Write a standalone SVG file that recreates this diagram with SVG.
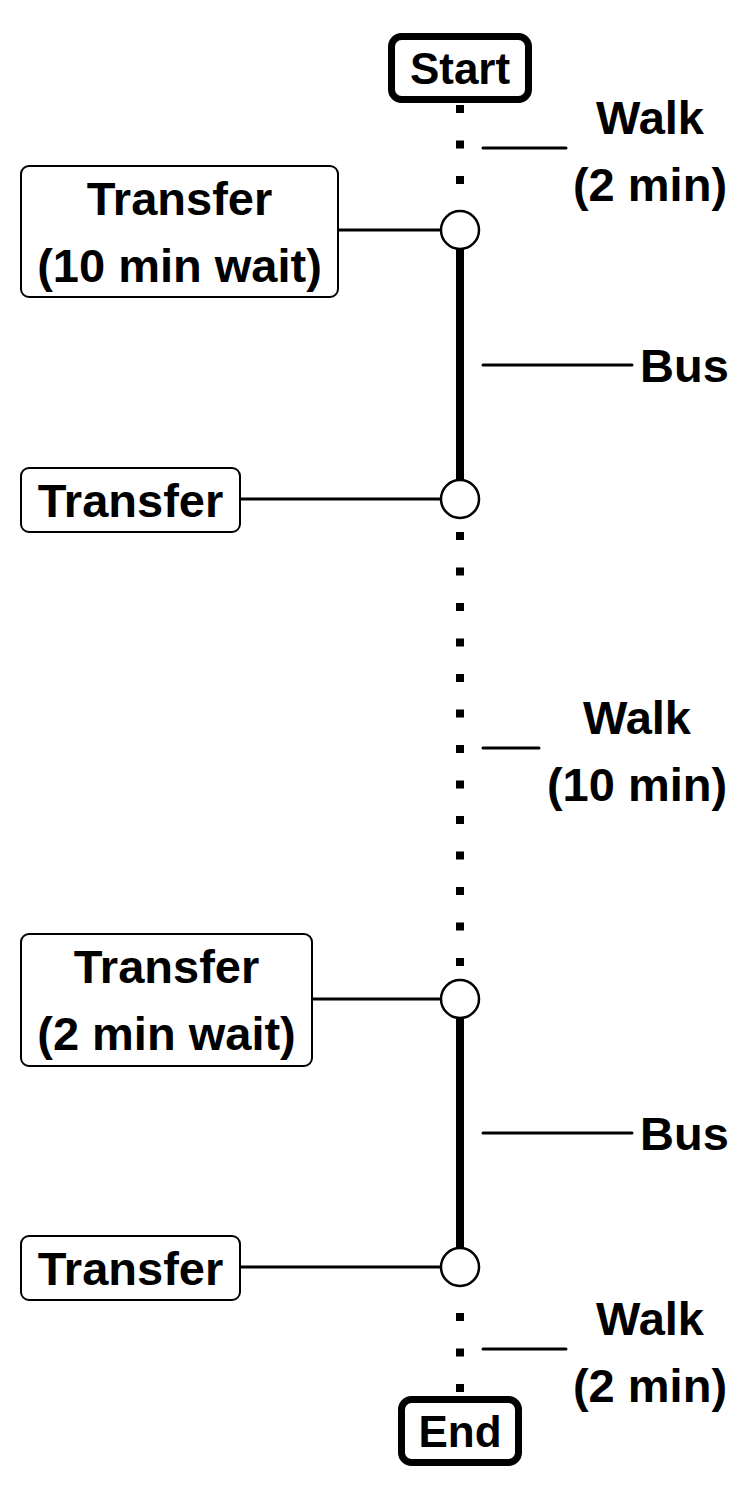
<svg xmlns="http://www.w3.org/2000/svg" width="750" height="1500" viewBox="0 0 750 1500">
<style>
text{font-family:"Liberation Sans",Arial,Helvetica,sans-serif;font-weight:bold;fill:#000}
.lbl{font-size:47px}
.term{font-size:44px}
.mid{text-anchor:middle}
.box{fill:#fff;stroke:#000;stroke-width:2}
.tbox{fill:#fff;stroke:#000;stroke-width:7}
.stop{fill:#fff;stroke:#000;stroke-width:2.5}
.walk{stroke:#000;stroke-width:8;stroke-dasharray:8 27.5;fill:none}
.bus{stroke:#000;stroke-width:8;fill:none}
.link{stroke:#000;stroke-width:3;fill:none}
.tick{stroke:#000;stroke-width:3;stroke-linecap:round;fill:none}
</style>
<rect width="750" height="1500" fill="#fff"/>
<g id="connectors">
<line class="walk" x1="460" y1="105" x2="460" y2="211"/>
<line class="bus" x1="460" y1="230" x2="460" y2="499"/>
<line class="walk" x1="460" y1="532" x2="460" y2="980"/>
<line class="bus" x1="460" y1="999" x2="460" y2="1267"/>
<line class="walk" x1="460" y1="1313" x2="460" y2="1396"/>
<line class="link" x1="338" y1="230" x2="441" y2="230"/>
<line class="link" x1="240" y1="499" x2="441" y2="499"/>
<line class="link" x1="312" y1="999" x2="441" y2="999"/>
<line class="link" x1="240" y1="1267" x2="441" y2="1267"/>
<line class="tick" x1="483" y1="148" x2="566" y2="148"/>
<line class="tick" x1="483" y1="365" x2="632" y2="365"/>
<line class="tick" x1="483" y1="748" x2="539" y2="748"/>
<line class="tick" x1="483" y1="1133" x2="632" y2="1133"/>
<line class="tick" x1="483" y1="1349" x2="566" y2="1349"/>
</g>
<g id="start">
<rect class="tbox" x="391.5" y="36.5" width="137" height="63" rx="10"/>
<text class="term mid" x="460" y="84">Start</text>
</g>
<g id="end">
<rect class="tbox" x="401.5" y="1399.5" width="117" height="63" rx="10"/>
<text class="term mid" x="460" y="1447">End</text>
</g>
<g id="stop1"><circle class="stop" cx="460" cy="230" r="19"/></g>
<g id="stop2"><circle class="stop" cx="460" cy="499" r="19"/></g>
<g id="stop3"><circle class="stop" cx="460" cy="999" r="19"/></g>
<g id="stop4"><circle class="stop" cx="460" cy="1267" r="19"/></g>
<g id="transfer1">
<rect class="box" x="21" y="166" width="317" height="131" rx="8"/>
<text class="lbl mid" x="179.5" y="215">Transfer</text>
<text class="lbl mid" x="179.5" y="282">(10 min wait)</text>
</g>
<g id="transfer2">
<rect class="box" x="21" y="468" width="219" height="64" rx="8"/>
<text class="lbl mid" x="130.5" y="517">Transfer</text>
</g>
<g id="transfer3">
<rect class="box" x="21" y="934" width="291" height="132" rx="8"/>
<text class="lbl mid" x="166.5" y="983">Transfer</text>
<text class="lbl mid" x="166.5" y="1050">(2 min wait)</text>
</g>
<g id="transfer4">
<rect class="box" x="21" y="1236" width="219" height="64" rx="8"/>
<text class="lbl mid" x="130.5" y="1285">Transfer</text>
</g>
<g id="walk1">
<text class="lbl mid" x="650" y="134">Walk</text>
<text class="lbl mid" x="650" y="201">(2 min)</text>
</g>
<g id="bus1"><text class="lbl" x="640" y="382">Bus</text></g>
<g id="walk2">
<text class="lbl mid" x="637" y="734">Walk</text>
<text class="lbl mid" x="637" y="801">(10 min)</text>
</g>
<g id="bus2"><text class="lbl" x="640" y="1150">Bus</text></g>
<g id="walk3">
<text class="lbl mid" x="650" y="1335">Walk</text>
<text class="lbl mid" x="650" y="1402">(2 min)</text>
</g>
</svg>
